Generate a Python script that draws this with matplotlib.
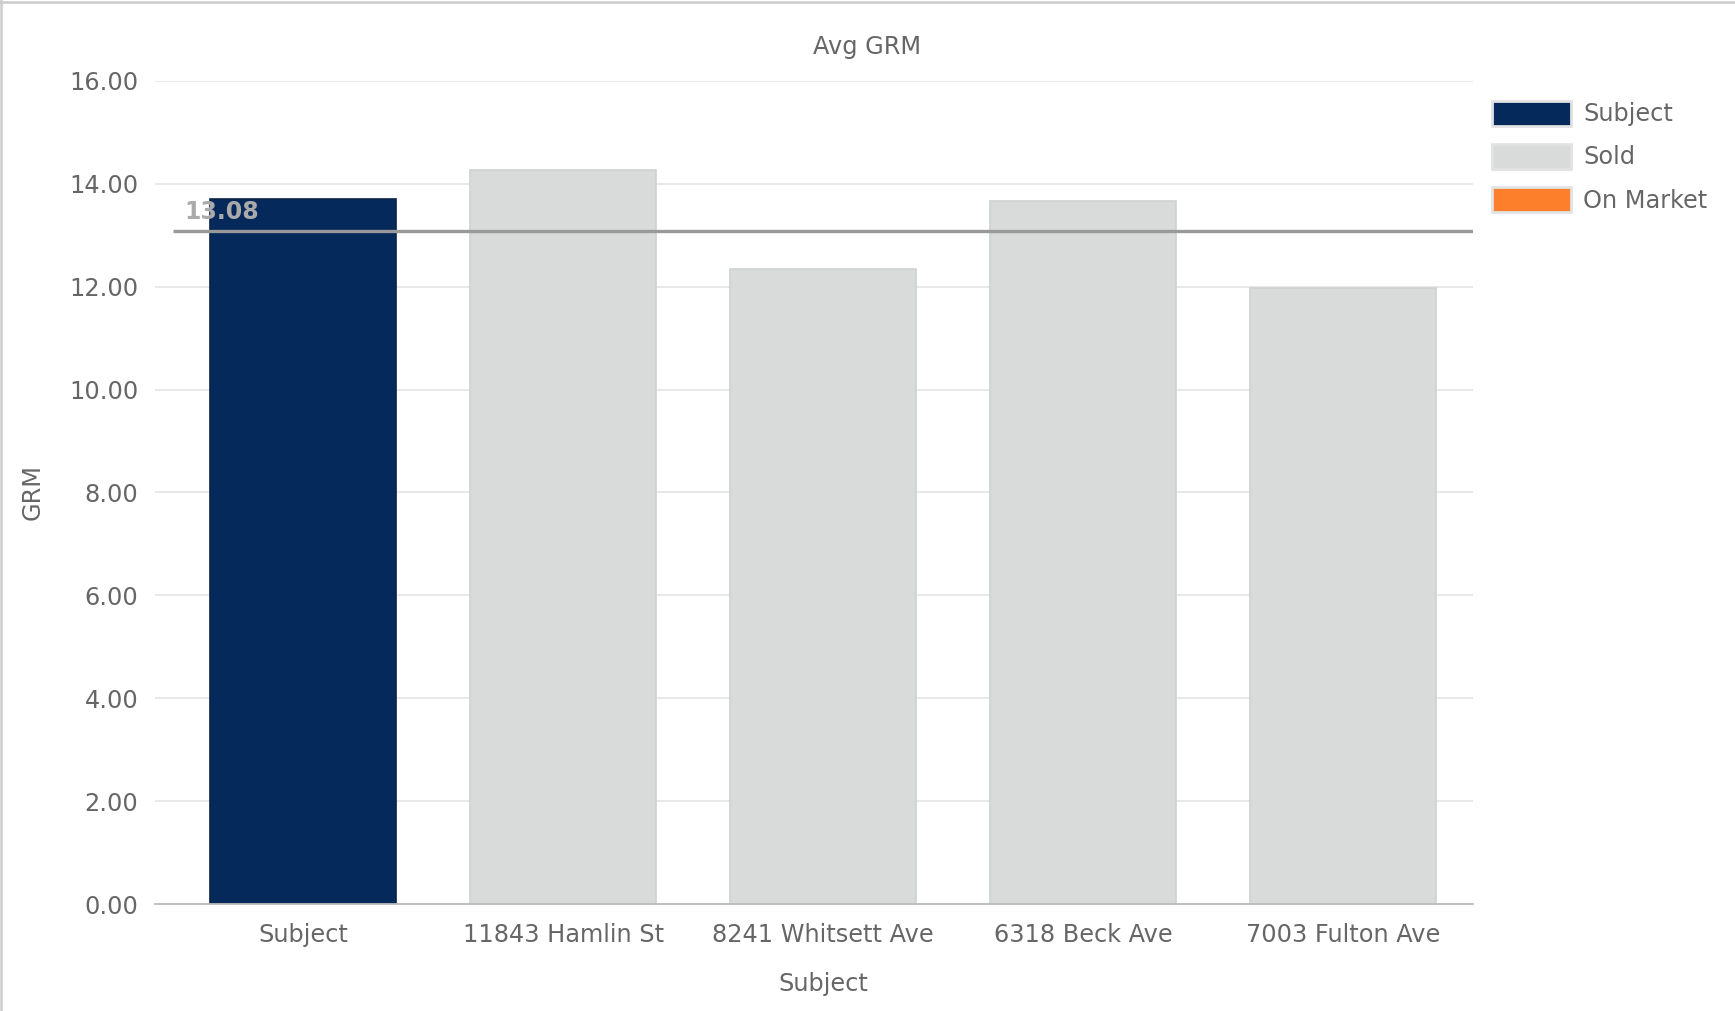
import matplotlib
matplotlib.use("Agg")
import matplotlib.pyplot as plt
from matplotlib.patches import Patch
from matplotlib.lines import Line2D

categories = ["Subject", "11843 Hamlin St", "8241 Whitsett Ave", "6318 Beck Ave", "7003 Fulton Ave"]
grm_values = [13.70, 14.26, 12.34, 13.66, 11.98]
bar_types = ["Subject", "Sold", "Sold", "Sold", "Sold"]
avg_grm = 13.08
legend_labels = ["Subject", "Sold", "On Market"]
y_ticks = [0, 2, 4, 6, 8, 10, 12, 14, 16]

colors = {"Subject": "#06295c", "Sold": "#d9dada", "On Market": "#fd7f2c"}
edges = {"Subject": "#0a2248", "Sold": "#cfd2d2", "On Market": "#e07020"}
text_color = "#666666"
FS = 17.3

plt.rcParams['font.family'] = ['DejaVu Sans']

fig = plt.figure(figsize=(17.35, 10.11), dpi=100)
ax = fig.add_axes([155/1735, 1 - 904/1011, (1473-155)/1735, (904-80.8)/1011])

x = list(range(len(categories)))
ax.bar(x, grm_values, width=0.715,
       color=[colors[t] for t in bar_types],
       edgecolor=[edges[t] for t in bar_types], linewidth=1.2, zorder=2)

ax.hlines(avg_grm, -0.5, len(categories) - 0.5, color="#999999", linewidth=2.4, zorder=3)
ax.annotate(f"{avg_grm:.2f}", xy=(-0.5, avg_grm), xytext=(8, 5), textcoords="offset points",
            fontsize=17, fontweight="bold", color="#aaaaaa", ha="left", va="bottom", zorder=4)

ax.set_xlim(-0.57, 4.5)
ax.set_ylim(0, 16)
ax.set_yticks(y_ticks)
ax.set_yticklabels([f"{v:.2f}" for v in y_ticks])
ax.set_xticks(x)
ax.set_xticklabels(categories)
ax.tick_params(axis="both", length=0, labelsize=FS, colors=text_color)
ax.tick_params(axis="x", pad=13.5)
ax.tick_params(axis="y", pad=12)
ax.yaxis.grid(True, color="#e6e6e6", linewidth=1.3, zorder=0)
ax.set_axisbelow(True)
for s in ["left", "right", "top"]:
    ax.spines[s].set_visible(False)
ax.spines["bottom"].set_color("#bbbbbb")
ax.spines["bottom"].set_linewidth(1.3)

fig.text(0.5, 1 - 47/1011, "Avg GRM", fontsize=FS, color=text_color, ha="center", va="center")
ax.set_xlabel("Subject", fontsize=FS, color=text_color)
ax.xaxis.set_label_coords((823 - 155) / 1318, -(984 - 904) / 823.2)
ax.xaxis.label.set_va("center")
ax.set_ylabel("GRM", fontsize=FS, color=text_color)
ax.yaxis.set_label_coords(-(155 - 33) / 1318, (904 - 492) / 823.2)
ax.yaxis.label.set_va("center")

handles = [Patch(facecolor=colors[l], edgecolor="#e2e2e2", linewidth=2) for l in legend_labels]
leg = fig.legend(handles, legend_labels, loc="upper left", bbox_to_anchor=(1482/1735, 1 - 91/1011),
                 frameon=False, fontsize=FS, labelcolor=text_color, handlelength=3.3, handleheight=1.25,
                 labelspacing=0.72, handletextpad=0.5, borderaxespad=0)

# figure border (top and left)
fig.add_artist(Line2D([0.0008, 0.0008], [0, 1], transform=fig.transFigure, color="#cccccc", linewidth=1.8))
fig.add_artist(Line2D([0, 1], [0.9985, 0.9985], transform=fig.transFigure, color="#cccccc", linewidth=1.8))

fig.savefig("out.png", dpi=100)
